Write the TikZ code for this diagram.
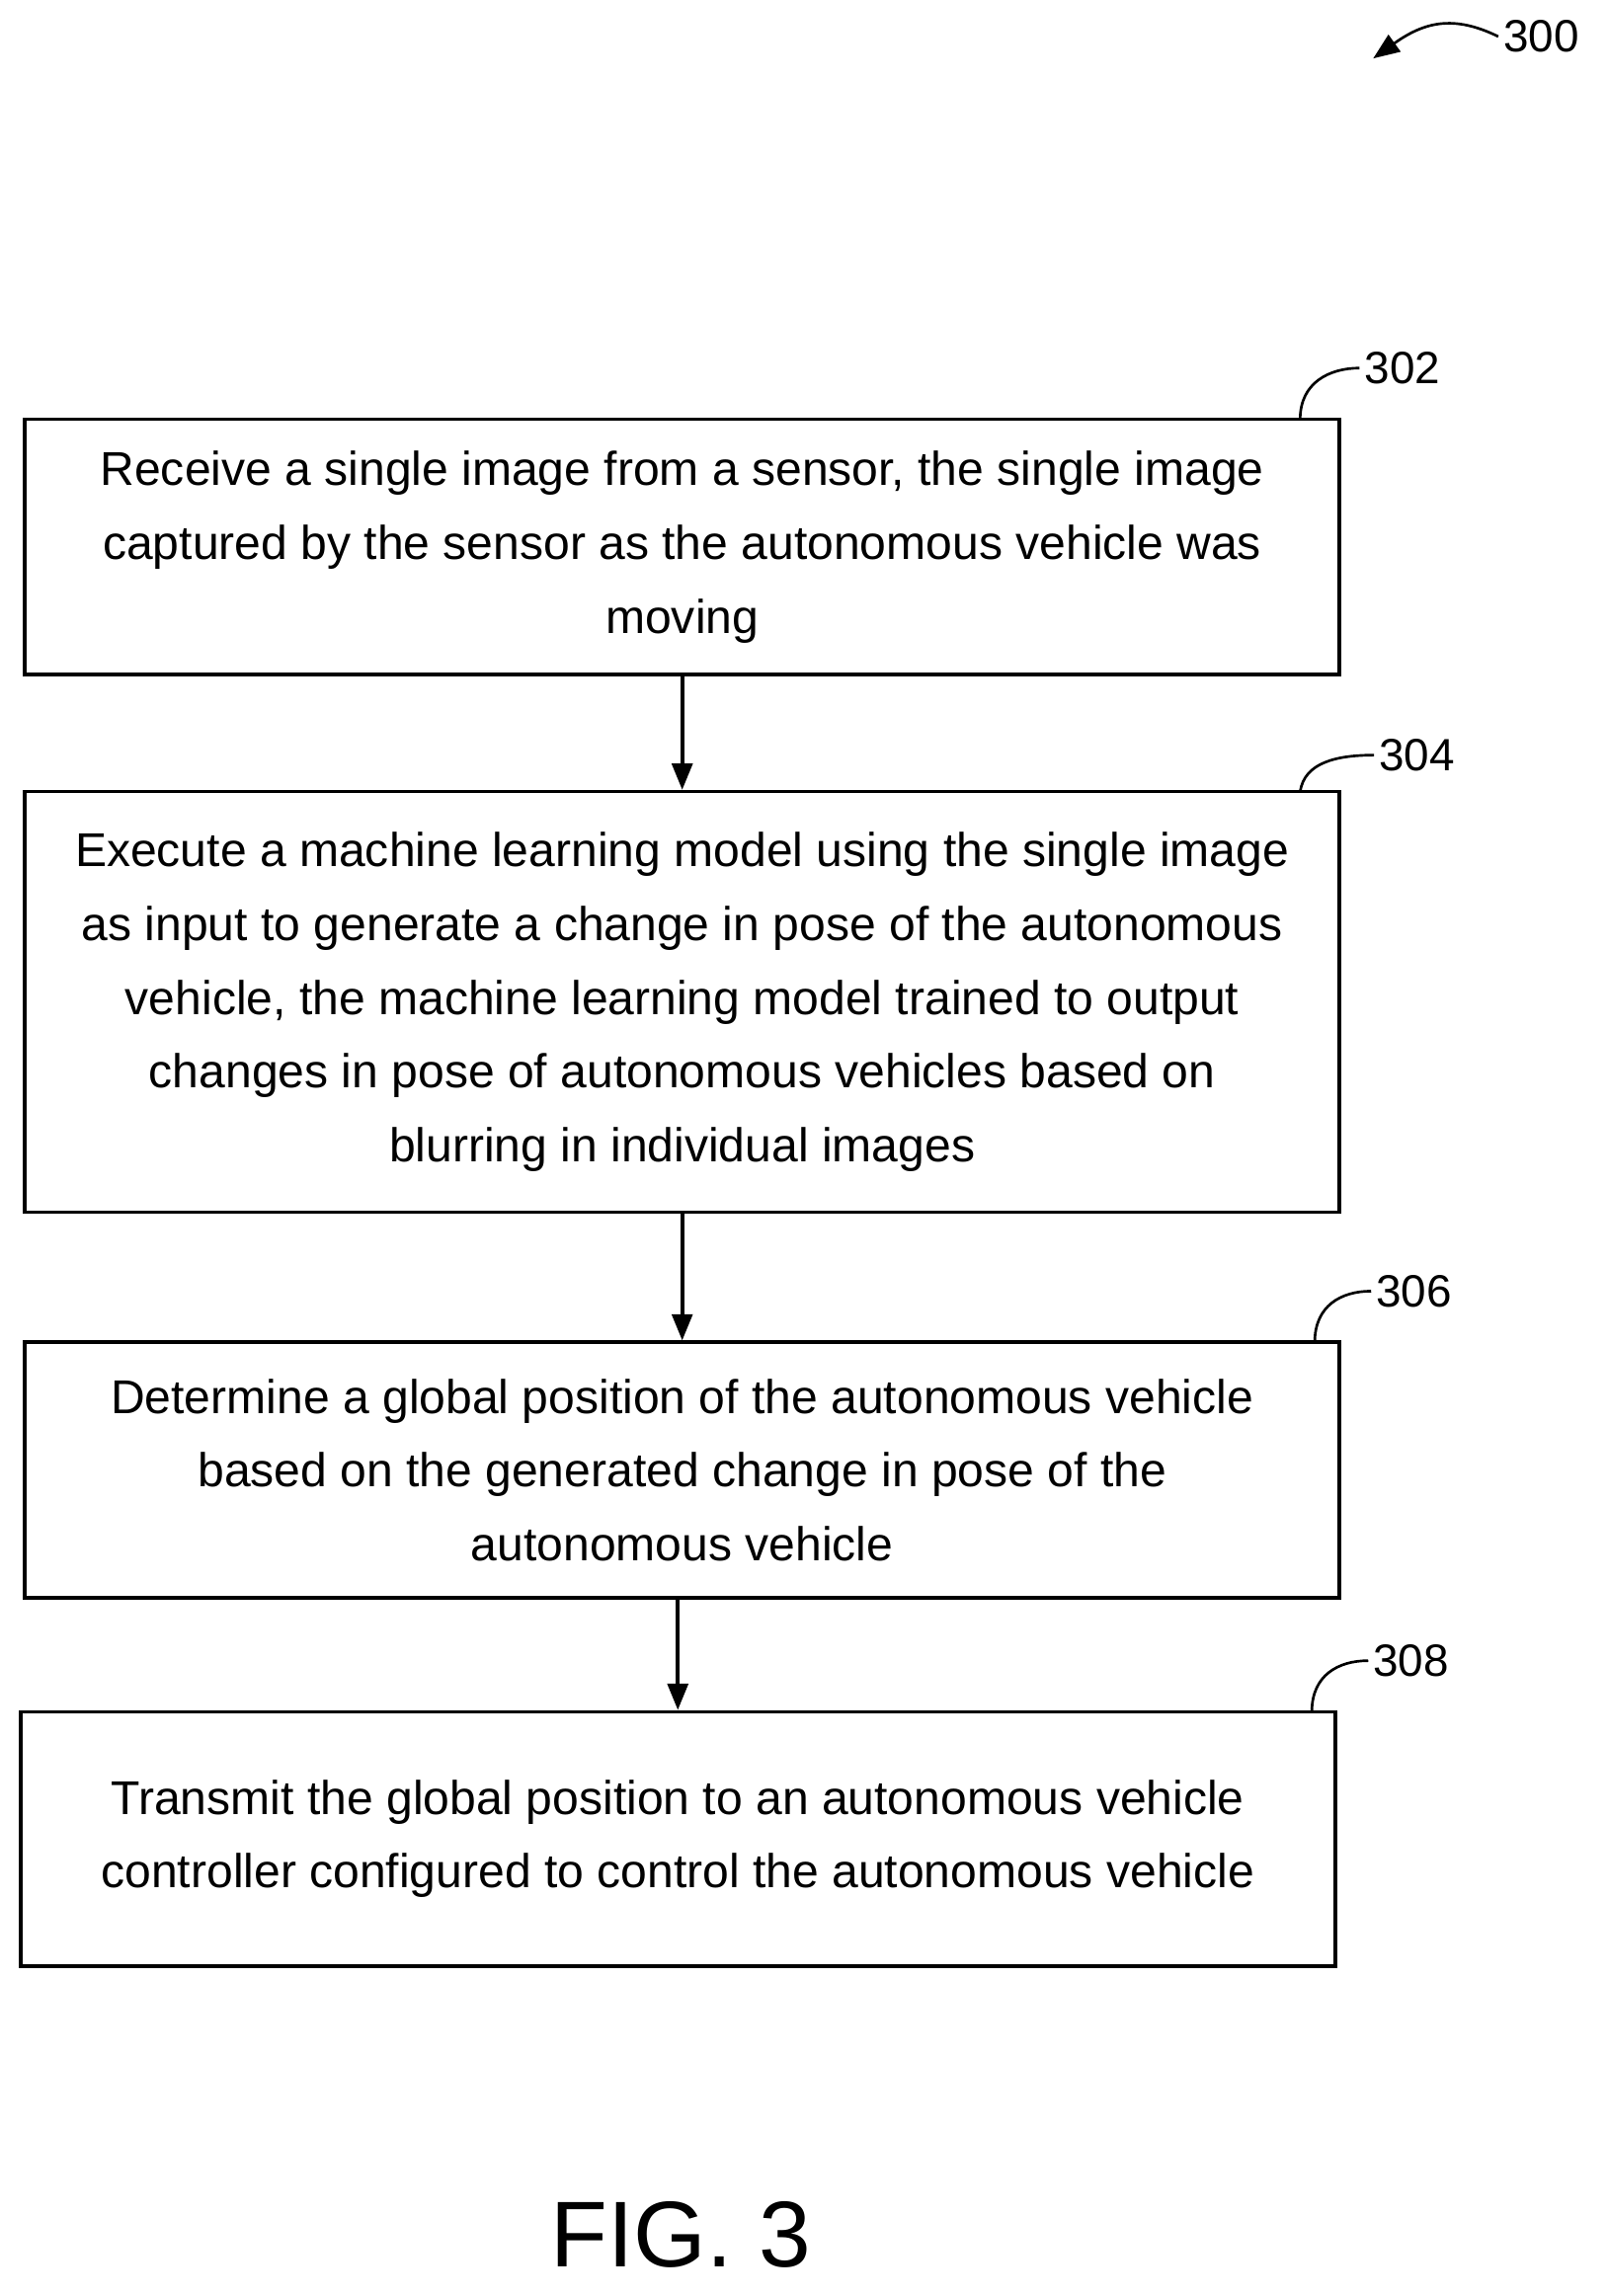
\documentclass[tikz,border=0pt]{standalone}
\usepackage{fontspec}
\setmainfont{Liberation Sans}
\usetikzlibrary{arrows.meta,positioning}
\begin{document}
\begin{tikzpicture}[x=1pt,y=-1pt,
    stepbox/.style={draw,line width=2.5pt,minimum width=900pt,align=center,
      font=\fontsize{32.5}{50.5}\selectfont,inner sep=0pt},
    reflabel/.style={font=\fontsize{31}{34}\selectfont},
    flow/.style={-{Triangle[length=18pt,width=14pt]},line width=2.5pt}]

    % Page frame
    \useasboundingbox (0,0) rectangle (1100,1572);

    % Steps of the flow
    \node[stepbox,minimum height=175pt] (recv) at (467,374.5)
      {Receive a single image from a sensor, the single image\\captured by the sensor as the autonomous vehicle was\\moving};
    \node[stepbox,minimum height=288pt] (exec) at (467,686)
      {Execute a machine learning model using the single image\\as input to generate a change in pose of the autonomous\\vehicle, the machine learning model trained to output\\changes in pose of autonomous vehicles based on\\blurring in individual images};
    \node[stepbox,minimum height=175pt] (glob) at (467,1006.5)
      {Determine a global position of the autonomous vehicle\\based on the generated change in pose of the\\autonomous vehicle};
    \node[stepbox,minimum height=174pt] (send) at (464,1259)
      {Transmit the global position to an autonomous vehicle\\controller configured to control the autonomous vehicle};

    % Connectors
    \draw[flow] (recv) -- (exec);
    \draw[flow] (exec) -- (glob);
    \draw[flow] (glob.south -| send) -- (send);

    % Reference numerals
    \node[reflabel] (n302) at (960,252) {302};
    \node[reflabel] (n304) at (970,517) {304};
    \node[reflabel] (n306) at (968,884) {306};
    \node[reflabel] (n308) at (966,1137) {308};
    \draw[line width=1.8pt] (890,287) .. controls (890,262) and (910,252) .. (n302.west);
    \draw[line width=1.8pt] (890,542) .. controls (893,522) and (915,517) .. (n304.west);
    \draw[line width=1.8pt] (900,919) .. controls (900,894) and (918,884) .. (n306.west);
    \draw[line width=1.8pt] (898,1172) .. controls (898,1147) and (916,1137) .. (n308.west);

    % Figure numeral
    \node[reflabel] (n300) at (1055,25) {300};
    \coordinate (tip300) at (940,40);
    \draw[line width=1.8pt,-{Triangle[length=18pt,width=14pt]}]
      (n300.west) .. controls (995,10) and (975,15) .. (tip300);

    % Caption
    \node[font=\fontsize{64}{70}\selectfont] (cap) at (466,1530) {FIG. 3};

\end{tikzpicture}
\end{document}
